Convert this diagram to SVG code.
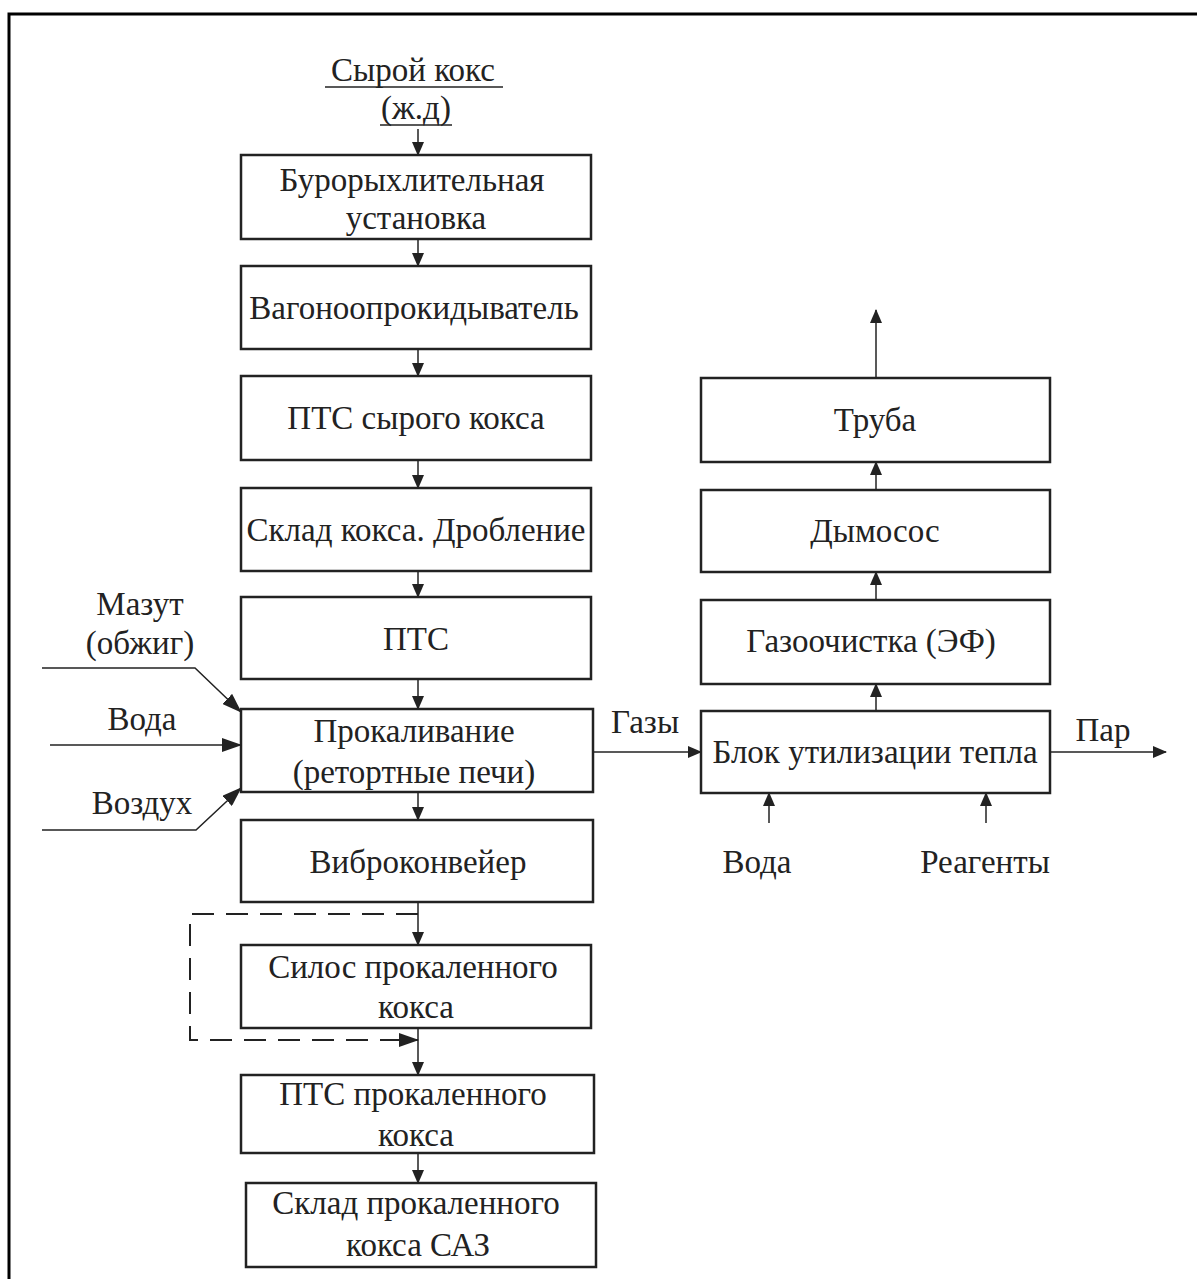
<svg xmlns="http://www.w3.org/2000/svg" width="1197" height="1279" viewBox="0 0 1197 1279">
<style>
.box{fill:#fff;stroke:#222;stroke-width:2.5}
.t{font-family:"Liberation Serif","Times New Roman",serif;font-size:33px;fill:#222;text-anchor:middle}
.c{fill:none;stroke:#222;stroke-width:1.5}
.d{fill:none;stroke:#222;stroke-width:2;stroke-dasharray:22,12}
</style>
<defs>
<marker id="ah" markerWidth="14" markerHeight="12" refX="13" refY="6" orient="auto" markerUnits="userSpaceOnUse">
<path d="M0,0 L14,6 L0,12 Z" fill="#222"/>
</marker>
<marker id="ahb" markerWidth="20" markerHeight="14" refX="19" refY="7" orient="auto" markerUnits="userSpaceOnUse">
<path d="M0,0 L20,7 L0,14 Z" fill="#222"/>
</marker>
</defs>
<rect width="1197" height="1279" fill="#fff"/>
<path d="M9,1279 V14 H1197" fill="none" stroke="#000" stroke-width="3"/>

<g id="source">
<text class="t" x="413" y="81">Сырой кокс</text>
<line x1="325" y1="87" x2="503" y2="87" stroke="#222" stroke-width="1.5"/>
<text class="t" x="416" y="119">(ж.д)</text>
<line x1="380" y1="125" x2="452" y2="125" stroke="#222" stroke-width="1.5"/>
</g>

<g id="n1"><rect class="box" x="241" y="155" width="350" height="84"/><text class="t" x="412" y="191">Бурорыхлительная</text><text class="t" x="416" y="229">установка</text></g>
<g id="n2"><rect class="box" x="241" y="266" width="350" height="83"/><text class="t" x="414" y="319">Вагоноопрокидыватель</text></g>
<g id="n3"><rect class="box" x="241" y="376" width="350" height="84"/><text class="t" x="416" y="429">ПТС сырого кокса</text></g>
<g id="n4"><rect class="box" x="241" y="488" width="350" height="83"/><text class="t" x="416" y="541">Склад кокса. Дробление</text></g>
<g id="n5"><rect class="box" x="241" y="597" width="350" height="82"/><text class="t" x="416" y="650">ПТС</text></g>
<g id="n6"><rect class="box" x="241" y="709" width="352" height="83"/><text class="t" x="414" y="742">Прокаливание</text><text class="t" x="414" y="783">(ретортные печи)</text></g>
<g id="n7"><rect class="box" x="241" y="820" width="352" height="82"/><text class="t" x="418" y="873">Виброконвейер</text></g>
<g id="n8"><rect class="box" x="241" y="945" width="350" height="83"/><text class="t" x="413" y="978">Силос прокаленного</text><text class="t" x="416" y="1018">кокса</text></g>
<g id="n9"><rect class="box" x="241" y="1075" width="353" height="78"/><text class="t" x="413" y="1105">ПТС прокаленного</text><text class="t" x="416" y="1146">кокса</text></g>
<g id="n10"><rect class="box" x="246" y="1183" width="350" height="84"/><text class="t" x="416" y="1214">Склад прокаленного</text><text class="t" x="418" y="1256">кокса САЗ</text></g>

<g id="r1"><rect class="box" x="701" y="378" width="349" height="84"/><text class="t" x="875" y="431">Труба</text></g>
<g id="r2"><rect class="box" x="701" y="490" width="349" height="82"/><text class="t" x="875" y="542">Дымосос</text></g>
<g id="r3"><rect class="box" x="701" y="600" width="349" height="84"/><text class="t" x="871" y="652">Газоочистка (ЭФ)</text></g>
<g id="r4"><rect class="box" x="701" y="711" width="349" height="82"/><text class="t" x="875" y="763">Блок утилизации тепла</text></g>

<g id="labels">
<text class="t" x="140" y="615">Мазут</text>
<text class="t" x="140" y="654">(обжиг)</text>
<text class="t" x="142" y="730">Вода</text>
<text class="t" x="142" y="814">Воздух</text>
<text class="t" x="645" y="733">Газы</text>
<text class="t" x="1103" y="741">Пар</text>
<text class="t" x="757" y="873">Вода</text>
<text class="t" x="985" y="873">Реагенты</text>
</g>

<g id="connectors">
<line class="c" x1="418" y1="129" x2="418" y2="155" marker-end="url(#ah)"/>
<line class="c" x1="418" y1="239" x2="418" y2="266" marker-end="url(#ah)"/>
<line class="c" x1="418" y1="349" x2="418" y2="376" marker-end="url(#ah)"/>
<line class="c" x1="418" y1="460" x2="418" y2="488" marker-end="url(#ah)"/>
<line class="c" x1="418" y1="571" x2="418" y2="597" marker-end="url(#ah)"/>
<line class="c" x1="418" y1="679" x2="418" y2="709" marker-end="url(#ah)"/>
<line class="c" x1="418" y1="792" x2="418" y2="820" marker-end="url(#ah)"/>
<line class="c" x1="418" y1="902" x2="418" y2="945" marker-end="url(#ah)"/>
<line class="c" x1="418" y1="1028" x2="418" y2="1075" marker-end="url(#ah)"/>
<line class="c" x1="418" y1="1153" x2="418" y2="1183" marker-end="url(#ah)"/>
<path class="d" d="M418,914 H190 V1040 H418" marker-end="url(#ahb)"/>
<path class="c" d="M42,668 H195 L241,712" marker-end="url(#ahb)" stroke-width="2"/>
<line class="c" x1="50" y1="745" x2="241" y2="745" marker-end="url(#ahb)" stroke-width="2"/>
<path class="c" d="M42,830 H196 L241,788" marker-end="url(#ahb)" stroke-width="2"/>
<line class="c" x1="593" y1="752" x2="701" y2="752" marker-end="url(#ah)"/>
<line class="c" x1="1050" y1="752" x2="1166" y2="752" marker-end="url(#ah)"/>
<line class="c" x1="876" y1="711" x2="876" y2="684" marker-end="url(#ah)"/>
<line class="c" x1="876" y1="600" x2="876" y2="572" marker-end="url(#ah)"/>
<line class="c" x1="876" y1="490" x2="876" y2="462" marker-end="url(#ah)"/>
<line class="c" x1="876" y1="378" x2="876" y2="310" marker-end="url(#ah)"/>
<line class="c" x1="769" y1="823" x2="769" y2="793" marker-end="url(#ah)"/>
<line class="c" x1="986" y1="823" x2="986" y2="793" marker-end="url(#ah)"/>
</g>
</svg>
